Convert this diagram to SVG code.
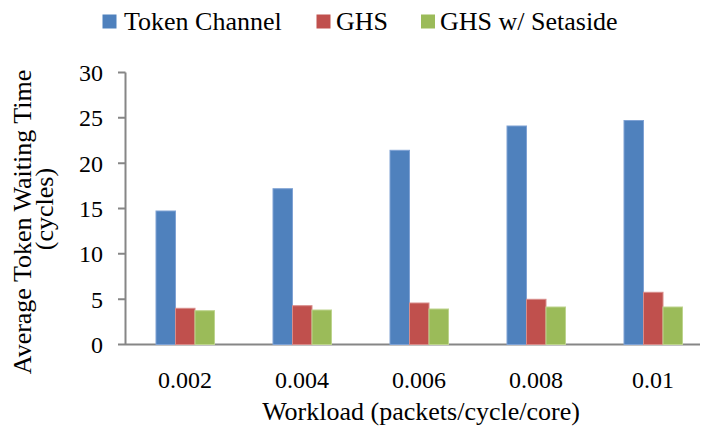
<svg xmlns="http://www.w3.org/2000/svg" width="701" height="430" viewBox="0 0 701 430" font-family="Liberation Serif, DejaVu Serif, serif">
<style>
.lg{font-size:26px;font-family:"Liberation Serif","DejaVu Serif",serif}
.tk{font-size:24px;font-family:"Liberation Serif","DejaVu Serif",serif}
.ti{font-size:26px;font-family:"Liberation Serif","DejaVu Serif",serif}
.ax{stroke:#868686;stroke-width:2;fill:none}
.b{fill:#4F81BD;stroke:#7FA2D4;stroke-width:1}
.r{fill:#C0504D;stroke:#D88C8A;stroke-width:1}
.g{fill:#9BBB59;stroke:#BDD48E;stroke-width:1}
</style>
<rect width="701" height="430" fill="#fff"/>
<g id="legend">
<rect x="102.5" y="14.5" width="14" height="14" fill="#4F81BD"/>
<text class="lg" x="124" y="30">Token Channel</text>
<rect x="316.5" y="14.5" width="14" height="14" fill="#C0504D"/>
<text class="lg" x="336" y="30">GHS</text>
<rect x="421" y="14.5" width="14" height="14" fill="#9BBB59"/>
<text class="lg" x="440" y="30">GHS w/ Setaside</text>
</g>
<g id="axes">
<path class="ax" d="M125.5 72.5V344.5M118 344.5H700M118 72.5H125.5M118 117.8H125.5M118 163.2H125.5M118 208.5H125.5M118 253.8H125.5M118 299.2H125.5"/>
<g text-anchor="end">
<text class="tk" x="103" y="81">30</text>
<text class="tk" x="103" y="126">25</text>
<text class="tk" x="103" y="172">20</text>
<text class="tk" x="103" y="217">15</text>
<text class="tk" x="103" y="262">10</text>
<text class="tk" x="103" y="308">5</text>
<text class="tk" x="103" y="353">0</text>
</g>
<g text-anchor="middle">
<text class="tk" x="185" y="388">0.002</text>
<text class="tk" x="302" y="388">0.004</text>
<text class="tk" x="419" y="388">0.006</text>
<text class="tk" x="536" y="388">0.008</text>
<text class="tk" x="653" y="388">0.01</text>
</g>
<text class="ti" x="421" y="420" text-anchor="middle">Workload (packets/cycle/core)</text>
<text class="ti" text-anchor="middle" transform="translate(31 222) rotate(-90)">Average Token Waiting Time</text>
<text class="ti" text-anchor="middle" transform="translate(53 209) rotate(-90)">(cycles)</text>
</g>
<g id="bars">
<rect class="b" x="156" y="211" width="19.5" height="133.5"/>
<rect class="r" x="175.5" y="308.3" width="19.5" height="36.2"/>
<rect class="g" x="195" y="310.7" width="19.5" height="33.8"/>
<rect class="b" x="273" y="188.7" width="19.5" height="155.8"/>
<rect class="r" x="292.5" y="305.7" width="19.5" height="38.8"/>
<rect class="g" x="312" y="310" width="19.5" height="34.5"/>
<rect class="b" x="390" y="150.3" width="19.5" height="194.2"/>
<rect class="r" x="409.5" y="303" width="19.5" height="41.5"/>
<rect class="g" x="429" y="309" width="19.5" height="35.5"/>
<rect class="b" x="507" y="126" width="19.5" height="218.5"/>
<rect class="r" x="526.5" y="299.3" width="19.5" height="45.2"/>
<rect class="g" x="546" y="307" width="19.5" height="37.5"/>
<rect class="b" x="624" y="120.5" width="19.5" height="224"/>
<rect class="r" x="643.5" y="292.3" width="19.5" height="52.2"/>
<rect class="g" x="663" y="307" width="19.5" height="37.5"/>
</g>
</svg>
